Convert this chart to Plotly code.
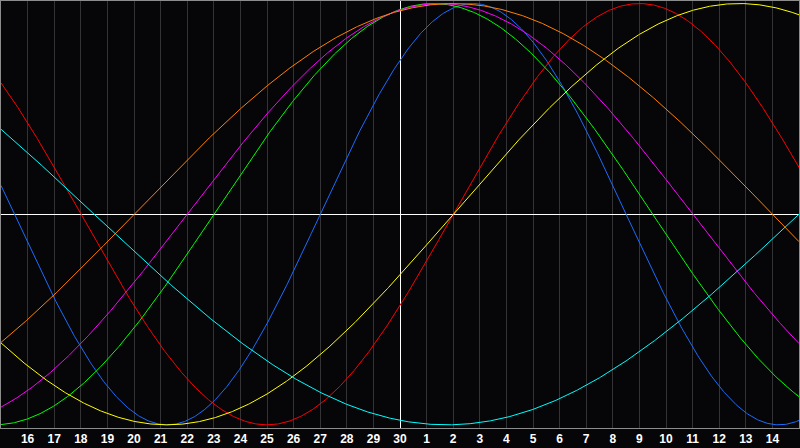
import numpy as np
import plotly.graph_objects as go

# Day labels along the bottom (index 0 = day 15 of previous month, index 15 = day 30 = today)
day_labels = [15, 16, 17, 18, 19, 20, 21, 22, 23, 24, 25, 26, 27, 28, 29, 30,
              1, 2, 3, 4, 5, 6, 7, 8, 9, 10, 11, 12, 13, 14, 15]
today_index = 15
days_since_birth_at_start = 18043

# Cycle periods (days) and colours
cycle_names = ["Physical", "Emotional", "Intellectual", "Intuitive", "Aesthetic", "Awareness", "Spiritual"]
cycle_periods = [23, 28, 33, 38, 43, 48, 53]
cycle_colors = ["#1a6cff", "#ff0000", "#00ff00", "#ff00ff", "#ffff00", "#ff8000", "#00ffff"]

n = len(day_labels) - 1
x = np.linspace(0, n, 901)

fig = go.Figure()
for name, period, color in zip(cycle_names, cycle_periods, cycle_colors):
    t = days_since_birth_at_start + x
    y = np.sin(2 * np.pi * t / period)
    fig.add_trace(go.Scatter(x=x, y=y, mode="lines", name=name,
                             line=dict(color=color, width=1), hoverinfo="skip"))

# invisible trace on a second x axis whose zero line marks "today"
fig.add_trace(go.Scatter(x=[-today_index, n - today_index], y=[0, 0], xaxis="x2",
                         mode="lines", line=dict(width=0), opacity=0, hoverinfo="skip",
                         showlegend=False))

bg = "#060609"

fig.update_layout(
    width=800, height=448,
    margin=dict(l=1, r=1, t=1, b=20),
    paper_bgcolor=bg, plot_bgcolor=bg,
    showlegend=False,
    xaxis=dict(range=[0, n], tickmode="array",
               tickvals=list(range(1, n)),
               ticktext=[str(d) for d in day_labels[1:n]],
               showgrid=True, gridcolor="#333335", gridwidth=1,
               zeroline=False, showline=True, linecolor="#8c8c8c", linewidth=1, mirror=True,
               ticks="", tickfont=dict(family="Liberation Sans, Arial", size=12, color="white", weight="bold"),
               fixedrange=True),
    xaxis2=dict(range=[-today_index, n - today_index], overlaying="x", side="top",
                showgrid=False, showticklabels=False, ticks="", showline=False,
                zeroline=True, zerolinecolor="white", zerolinewidth=1, fixedrange=True),
    yaxis=dict(range=[-1.015, 1.012], showticklabels=False, showgrid=False,
               zeroline=True, zerolinecolor="white", zerolinewidth=1,
               showline=True, linecolor="#8c8c8c", linewidth=1, mirror=True,
               ticks="", fixedrange=True),
)

fig.write_html("out.html", config={"displayModeBar": False},
               post_script="document.body.style.margin='0';document.body.style.background='%s';" % bg)
